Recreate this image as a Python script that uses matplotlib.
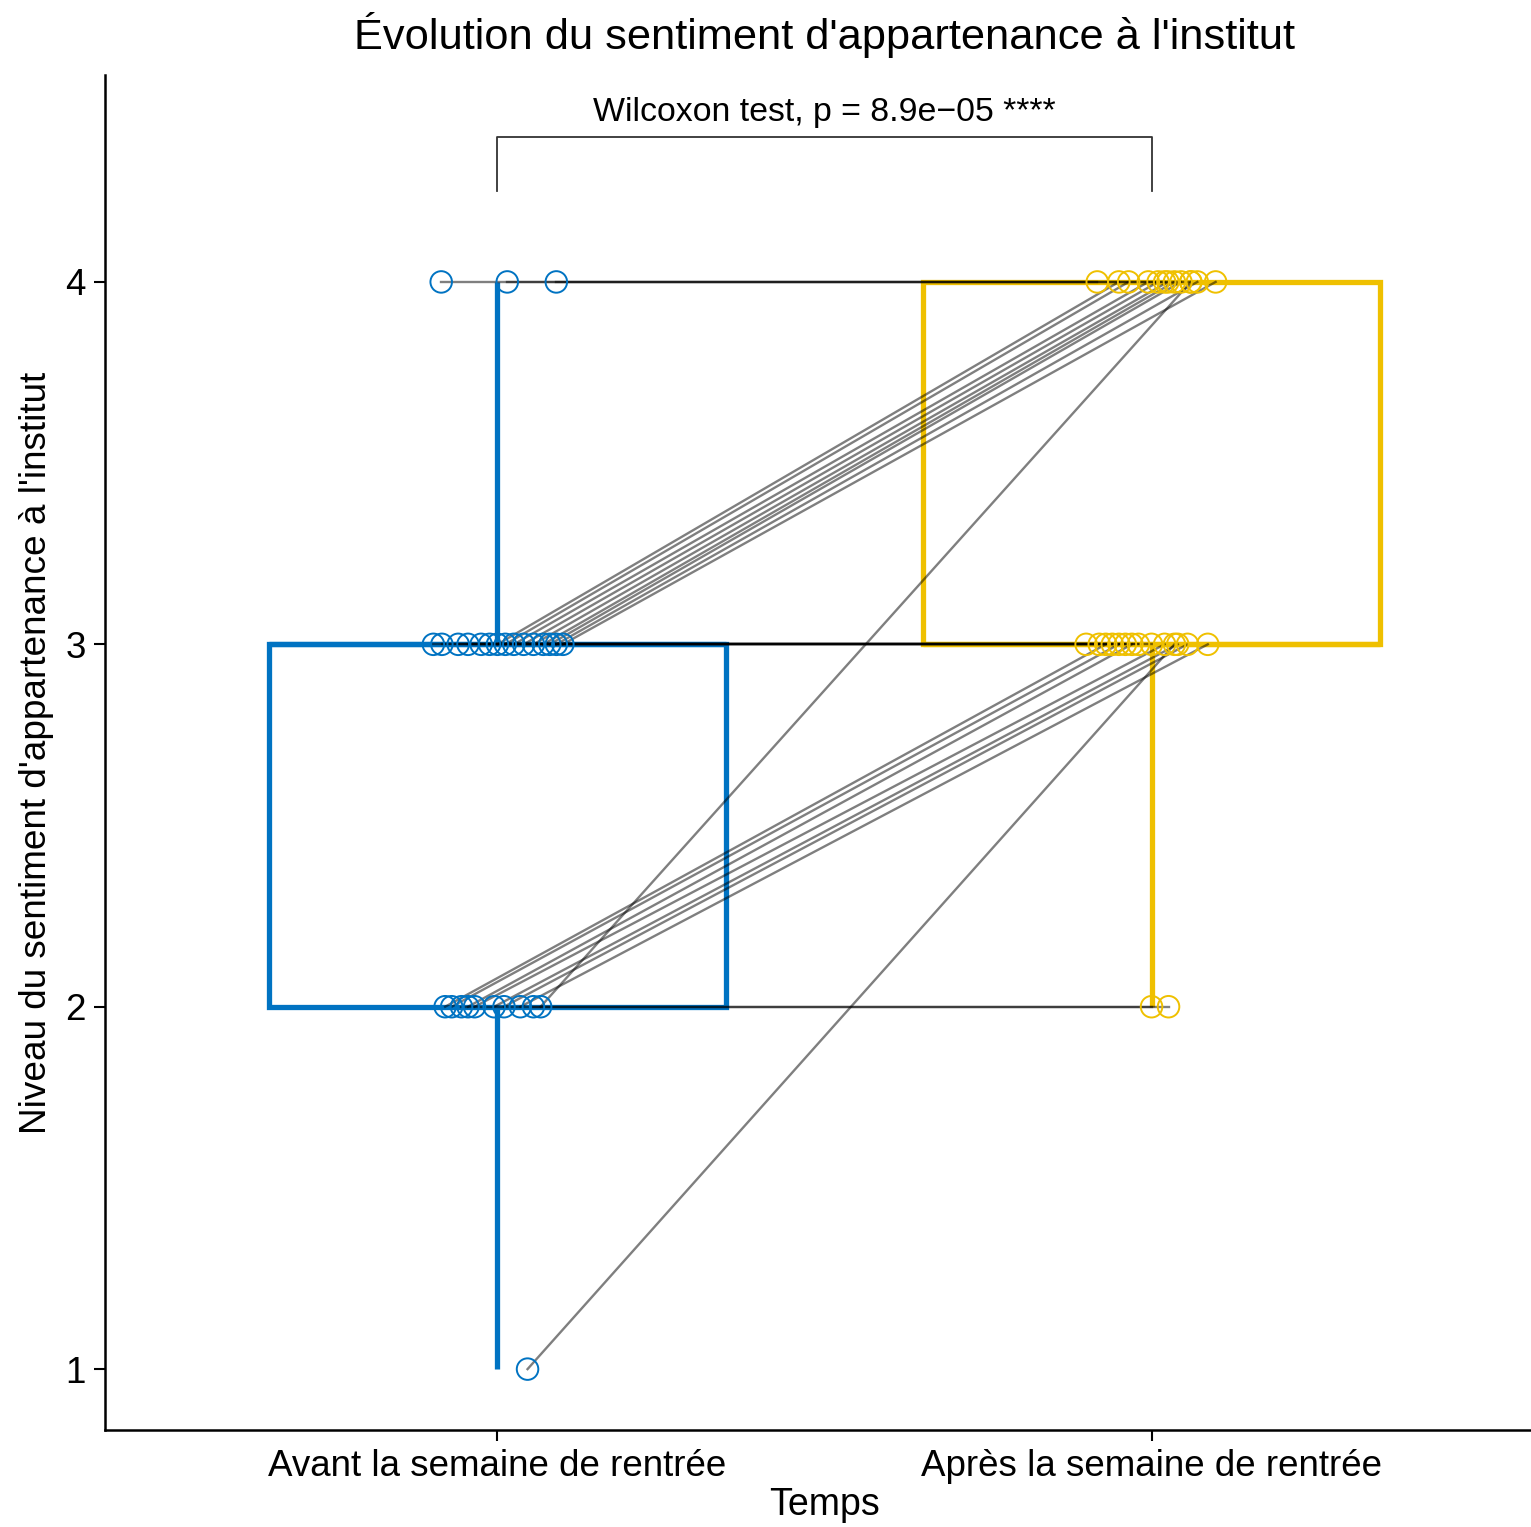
import matplotlib
matplotlib.use("Agg")
import matplotlib.pyplot as plt
import numpy as np

plt.rcParams['font.family'] = ['Liberation Sans', 'DejaVu Sans']

# ---- data (one entry per participant) ----
groups = ["Avant la semaine de rentrée", "Après la semaine de rentrée"]
colors = ["#0073C2", "#EFC000"]

before = [4, 4, 4,
          3, 3, 3, 3, 3, 3, 3, 3, 3,
          3, 3, 3, 3, 3, 3,
          2, 2, 2, 2, 2, 2, 2,
          2, 2, 2,
          1]
after = [4, 4, 4,
         4, 4, 4, 4, 4, 4, 4, 4, 4,
         3, 3, 3, 3, 3, 3,
         3, 3, 3, 3, 3, 3, 3,
         4, 2, 2,
         3]
# horizontal jitter (category units)
before_jitter = [-0.086, 0.015, 0.090,
                 0.000, 0.012, 0.025, 0.040, 0.055, 0.070, 0.080, 0.090, 0.100,
                 -0.098, -0.085, -0.060, -0.045, -0.025, -0.012,
                 -0.080, -0.070, -0.045, -0.035, -0.005, 0.010, 0.035,
                 0.066, 0.055, -0.055,
                 0.046]
after_jitter = [-0.083, 0.020, 0.060,
                -0.050, -0.035, -0.005, 0.010, 0.025, 0.035, 0.045, 0.070, 0.098,
                -0.100, -0.080, -0.060, -0.040, -0.020, 0.000,
                -0.070, -0.050, -0.030, 0.020, 0.040, 0.055, 0.086,
                0.060, 0.000, 0.026,
                0.035]

yticks = [1, 2, 3, 4]
title = "Évolution du sentiment d'appartenance à l'institut"
xlabel = "Temps"
ylabel = "Niveau du sentiment d'appartenance à l'institut"
test_label = "Wilcoxon test, p = 8.9e\u221205 ****"

W, H, DPI = 1531, 1527, 100
fig = plt.figure(figsize=(W / DPI, H / DPI), dpi=DPI)
ax = fig.add_axes([105 / W, 1 - 1430 / H, (1544 - 105) / W, (1430 - 75) / H])

positions = [1, 2]
data = [before, after]
for i, (d, c) in enumerate(zip(data, colors)):
    ax.boxplot([d], positions=[positions[i]], widths=0.7, whis=1.5,
               showfliers=False, showcaps=False, patch_artist=True,
               boxprops=dict(facecolor="none", edgecolor=c, linewidth=3.8),
               medianprops=dict(color=c, linewidth=3.8, solid_capstyle="butt"),
               whiskerprops=dict(color=c, linewidth=3.8, solid_capstyle="butt"),
               zorder=2)

bx = np.array(positions[0]) + np.array(before_jitter)
axx = np.array(positions[1]) + np.array(after_jitter)
for x0, y0, x1, y1 in zip(bx, before, axx, after):
    ax.plot([x0, x1], [y0, y1], color="black", alpha=0.5, lw=1.7, zorder=3)

ax.scatter(bx, before, s=15.5 ** 2, facecolors="none", edgecolors=colors[0],
           linewidths=1.4, zorder=4)
ax.scatter(axx, after, s=15.5 ** 2, facecolors="none", edgecolors=colors[1],
           linewidths=1.4, zorder=4)

# significance bracket
ax.plot([1, 1, 2, 2], [4.25, 4.40, 4.40, 4.25], color="#333333", lw=1.3,
        zorder=3, clip_on=False)
ax.text(1.5, 4.425, test_label, ha="center", va="bottom", fontsize=24.4)

ax.set_xlim(0.4, 2.6)
ax.set_ylim(0.832, 4.571)
ax.set_xticks(positions)
ax.set_xticklabels(groups, fontsize=26.5)
ax.set_yticks(yticks)
ax.set_yticklabels([str(t) for t in yticks], fontsize=26.5)
ax.tick_params(length=8, width=1.5, pad=6)
for s in ["top", "right"]:
    ax.spines[s].set_visible(False)
for s in ["left", "bottom"]:
    ax.spines[s].set_linewidth(1.8)
ax.set_xlabel(xlabel, fontsize=27, labelpad=2)
ax.set_ylabel(ylabel, fontsize=26.6, labelpad=8)
fig.text((105 + 1544) / 2 / W, 1 - 35 / H, title, ha="center", va="center",
         fontsize=31.2)

fig.savefig("out.png", dpi=DPI)
